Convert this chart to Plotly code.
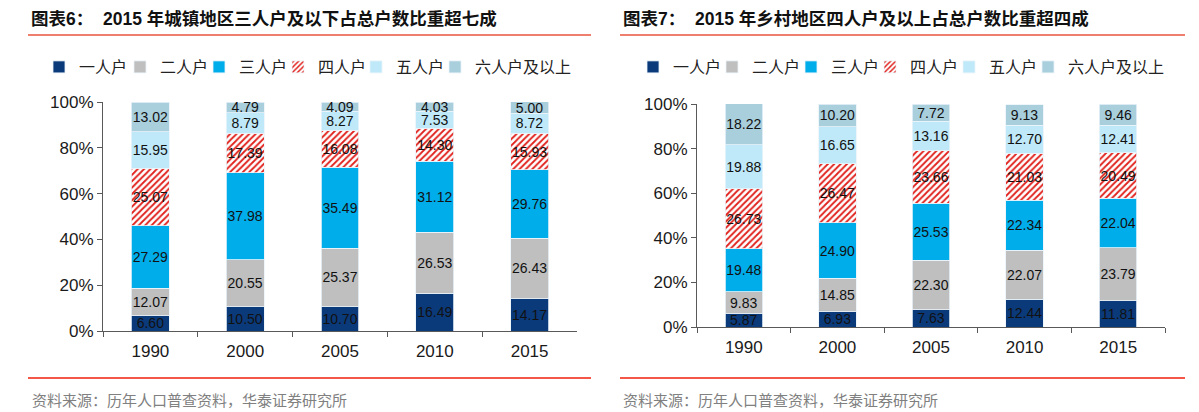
import plotly.graph_objects as go

years = ["1990", "2000", "2005", "2010", "2015"]
series_names = ["一人户", "二人户", "三人户", "四人户", "五人户", "六人户及以上"]

urban_1 = [6.60, 10.50, 10.70, 16.49, 14.17]
urban_2 = [12.07, 20.55, 25.37, 26.53, 26.43]
urban_3 = [27.29, 37.98, 35.49, 31.12, 29.76]
urban_4 = [25.07, 17.39, 16.08, 14.30, 15.93]
urban_5 = [15.95, 8.79, 8.27, 7.53, 8.72]
urban_6 = [13.02, 4.79, 4.09, 4.03, 5.00]

rural_1 = [5.87, 6.93, 7.63, 12.44, 11.81]
rural_2 = [9.83, 14.85, 22.30, 22.07, 23.79]
rural_3 = [19.48, 24.90, 25.53, 22.34, 22.04]
rural_4 = [26.73, 26.47, 23.66, 21.03, 20.49]
rural_5 = [19.88, 16.65, 13.16, 12.70, 12.41]
rural_6 = [18.22, 10.20, 7.72, 9.13, 9.46]

y_ticks = [0, 20, 40, 60, 80, 100]
y_tick_labels = ["0%", "20%", "40%", "60%", "80%", "100%"]

title_left = "图表6：  2015 年城镇地区三人户及以下占总户数比重超七成"
title_right = "图表7：  2015 年乡村地区四人户及以上占总户数比重超四成"
source_text = "资料来源：历年人口普查资料，华泰证券研究所"

colors = ["#0B3A7B", "#BFBFBF", "#00ADEB", "#FFFFFF", "#BFE9F8", "#A9CEDC"]
NUM_FONT = "Liberation Sans, Arial, sans-serif"
CJK_FONT = "Liberation Sans, Noto Sans CJK SC, sans-serif"

# the page body has an 8px default margin: the figure is sized and laid out to compensate
OFF = 8
W, H = 1199 - OFF, 412 - OFF


def px_x(p):
    return (p - OFF) / W


def px_y(p):
    return 1 - (p - OFF) / H


fig = go.Figure()

legend_text_starts = [[71, 152, 231, 310, 388, 467], [665, 744, 823, 902, 981, 1060]]
legend_layouts = {}


def add_group(g, data, xa, ya):
    for i, (name, vals) in enumerate(zip(series_names, data)):
        k = g * 6 + i + 1
        lname = "legend" if k == 1 else f"legend{k}"
        legend_layouts[lname] = dict(
            x=px_x(legend_text_starts[g][i] - 32), y=px_y(67),
            xanchor="left", yanchor="middle", orientation="h",
            font=dict(family=CJK_FONT, size=16, color="#222222"),
            bgcolor="rgba(0,0,0,0)", itemwidth=30)
        marker = dict(color=colors[i], line=dict(color="#EAF4FA", width=0.8))
        if i == 3:
            marker["pattern"] = dict(shape="/", fgcolor="#E0201B", bgcolor="#FFFFFF",
                                     size=4.5, solidity=0.4, fillmode="replace")
        fig.add_trace(go.Bar(
            x=years, y=vals, name=name, xaxis=xa, yaxis=ya, legend=lname,
            marker=marker,
            text=[f"{v:.2f}" for v in vals], texttemplate="%{text}",
            textposition="inside", insidetextanchor="middle", textangle=0,
            constraintext="none",
            insidetextfont=dict(family=NUM_FONT, size=14, color="#111111"),
            hoverinfo="skip",
        ))


add_group(0, [urban_1, urban_2, urban_3, urban_4, urban_5, urban_6], "x", "y")
add_group(1, [rural_1, rural_2, rural_3, rural_4, rural_5, rural_6], "x2", "y2")

axis_common = dict(showline=True, linecolor="#595959", linewidth=1, ticks="outside",
                   ticklen=5, tickcolor="#595959", showgrid=False, zeroline=False,
                   automargin=False,
                   tickfont=dict(family=NUM_FONT, size=17, color="#1A1A1A"))

fig.update_layout(
    width=W, height=H, autosize=False,
    margin=dict(l=0, r=0, t=0, b=0),
    paper_bgcolor="white", plot_bgcolor="white",
    barmode="stack", bargap=0.6,
    xaxis=dict(domain=[px_x(103), px_x(577)], type="category", tickson="boundaries",
               anchor="y", ticklabelstandoff=5, **axis_common),
    yaxis=dict(domain=[px_y(331), px_y(102)], range=[0, 100], tickmode="array",
               tickvals=y_ticks, ticktext=y_tick_labels, anchor="x", **axis_common),
    xaxis2=dict(domain=[px_x(697), px_x(1165)], type="category", tickson="boundaries",
                anchor="y2", ticklabelstandoff=5, **axis_common),
    yaxis2=dict(domain=[px_y(327), px_y(104)], range=[0, 100], tickmode="array",
                tickvals=y_ticks, ticktext=y_tick_labels, anchor="x2", **axis_common),
    showlegend=True,
    **legend_layouts,
)

# titles
for x0, txt in [(29, title_left), (621, title_right)]:
    fig.add_annotation(x=px_x(x0), y=px_y(19), xref="paper", yref="paper",
                       xanchor="left", yanchor="middle", showarrow=False,
                       text=f"<b>{txt}</b>",
                       font=dict(family=CJK_FONT, size=17.5, color="#111111"))
# sources
for x0 in (30, 621):
    fig.add_annotation(x=px_x(x0), y=px_y(400), xref="paper", yref="paper",
                       xanchor="left", yanchor="middle", showarrow=False,
                       text=source_text,
                       font=dict(family=CJK_FONT, size=15, color="#808080"))

# decorative rules
for x0, x1 in [(28, 591), (620, 1185)]:
    fig.add_shape(type="line", xref="paper", yref="paper",
                  x0=px_x(x0), x1=px_x(x1), y0=px_y(35), y1=px_y(35),
                  line=dict(color="#EE7E6E", width=2.2))
    fig.add_shape(type="line", xref="paper", yref="paper",
                  x0=px_x(x0), x1=px_x(x1), y0=px_y(378), y1=px_y(378),
                  line=dict(color="#F01E0A", width=1.5))

fig.write_html("out.html")
